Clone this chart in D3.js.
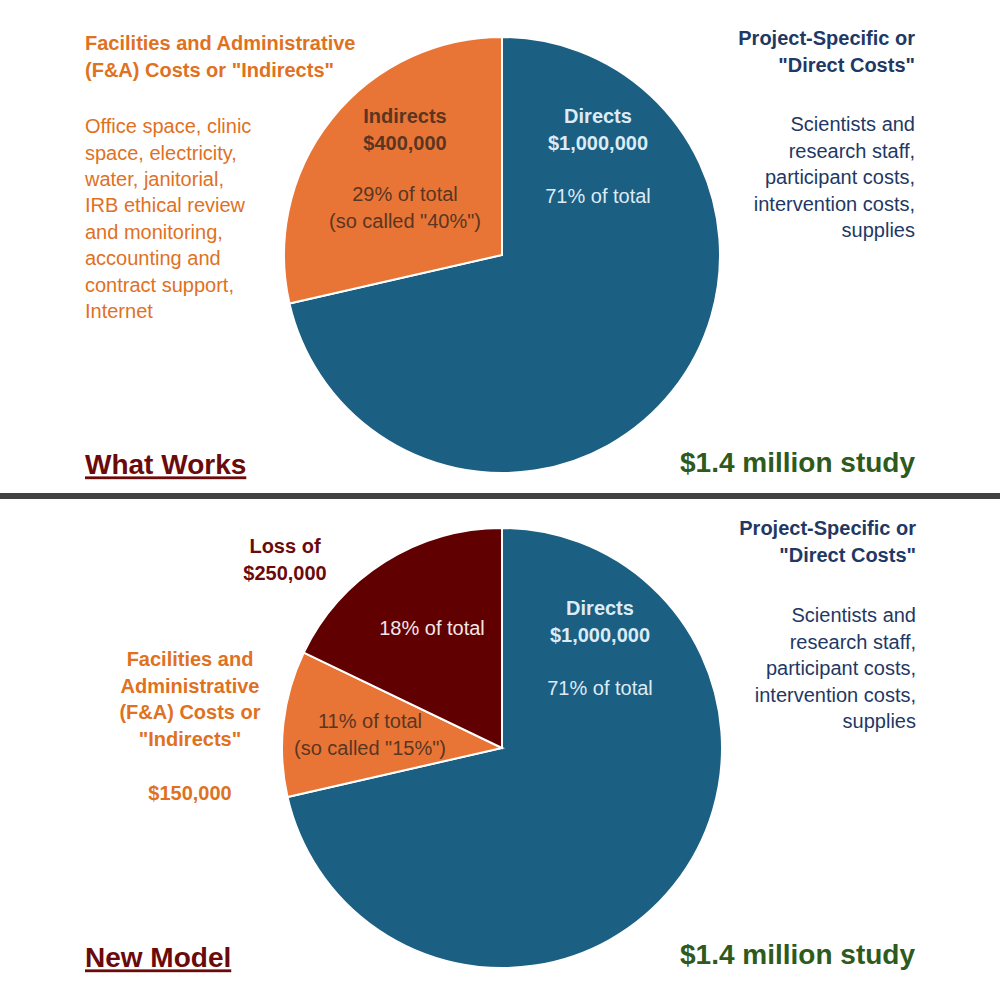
<!DOCTYPE html>
<html lang="en">
<head>
<meta charset="utf-8" />
<script src="https://cdnjs.cloudflare.com/ajax/libs/d3/7.8.5/d3.min.js"></script>
<style>
  body { margin: 0; background: #fff; }
  text { font-family: "Liberation Sans", Arial, sans-serif; dominant-baseline: middle; }
</style>
</head>
<body>
<div id="chart"></div>
<script>
// Data
const topNames = ['Directs', 'Indirects'];
const topValues = [1000000, 400000];
const bottomNames = ['Directs', 'Indirects', 'Loss'];
const bottomValues = [1000000, 150000, 250000];
const sliceColors = { Directs: '#1b5f82', Indirects: '#e87535', Loss: '#600000' };

const width = 1000, height = 1000;
const svg = d3.select('#chart').append('svg')
    .attr('width', width).attr('height', height);

const pie = d3.pie().sort(null);

function drawPie(names, values, cx, cy, r) {
    const g = svg.append('g').attr('transform', `translate(${cx}, ${cy})`);
    const arc = d3.arc().innerRadius(0).outerRadius(r);
    g.selectAll('path')
        .data(pie(values))
        .enter()
        .append('path')
        .attr('d', arc)
        .attr('fill', (d, i) => sliceColors[names[i]])
        .attr('stroke', '#fff')
        .attr('stroke-width', 2);
}

drawPie(topNames, topValues, 502, 255, 218);
drawPie(bottomNames, bottomValues, 502, 748, 220);

// separator
svg.append('rect').attr('x', 0).attr('y', 493).attr('width', width).attr('height', 6).attr('fill', '#404040');

// text helper
function lines(arr, x, y0, step, opts) {
    arr.forEach((t, i) => {
        svg.append('text')
            .attr('x', x).attr('y', y0 + i * step)
            .attr('text-anchor', opts.anchor || 'start')
            .attr('font-size', opts.size || 20)
            .attr('font-weight', opts.bold ? 'bold' : 'normal')
            .attr('fill', opts.color)
            .attr('text-decoration', opts.underline ? 'underline' : null)
            .text(t);
    });
}

const orange = '#e0711f', navy = '#1f3864', green = '#2e5a1c', maroon = '#6b0a0a';
const brown = '#5a3622', paleBlue = '#dcebf6';

// --- top panel ---
lines(['Facilities and Administrative', '(F&A) Costs or "Indirects"'], 85, 45, 27, { bold: true, color: orange });
lines(['Office space, clinic', 'space, electricity,', 'water, janitorial,', 'IRB ethical review',
       'and monitoring,', 'accounting and', 'contract support,', 'Internet'], 85, 128, 26.4, { color: orange });
lines(['Project-Specific or', '"Direct Costs"'], 915, 40, 27, { bold: true, color: navy, anchor: 'end' });
lines(['Scientists and', 'research staff,', 'participant costs,', 'intervention costs,', 'supplies'],
      915, 126, 26.5, { color: navy, anchor: 'end' });
lines(['Indirects', '$400,000'], 405, 118, 27, { bold: true, color: brown, anchor: 'middle' });
lines(['29% of total', '(so called "40%")'], 405, 196, 27, { color: brown, anchor: 'middle' });
lines(['Directs', '$1,000,000'], 598, 118, 27, { bold: true, color: paleBlue, anchor: 'middle' });
lines(['71% of total'], 598, 198, 27, { color: paleBlue, anchor: 'middle' });
lines(['What Works'], 85, 467, 0, { bold: true, size: 28, color: maroon, underline: true });
lines(['$1.4 million study'], 915, 465, 0, { bold: true, size: 28, color: green, anchor: 'end' });

// --- bottom panel ---
lines(['Project-Specific or', '"Direct Costs"'], 916, 530, 27, { bold: true, color: navy, anchor: 'end' });
lines(['Scientists and', 'research staff,', 'participant costs,', 'intervention costs,', 'supplies'],
      916, 617, 26.5, { color: navy, anchor: 'end' });
lines(['Loss of', '$250,000'], 285, 548, 27, { bold: true, color: maroon, anchor: 'middle' });
lines(['18% of total'], 432, 630, 0, { color: '#f3e6e6', anchor: 'middle' });
lines(['Facilities and', 'Administrative', '(F&A) Costs or', '"Indirects"'], 190, 661, 26.5, { bold: true, color: orange, anchor: 'middle' });
lines(['$150,000'], 190, 795, 0, { bold: true, color: orange, anchor: 'middle' });
lines(['11% of total', '(so called "15%")'], 370, 723, 27, { color: brown, anchor: 'middle' });
lines(['Directs', '$1,000,000'], 600, 610, 27, { bold: true, color: paleBlue, anchor: 'middle' });
lines(['71% of total'], 600, 690, 0, { color: paleBlue, anchor: 'middle' });
lines(['New Model'], 85, 960, 0, { bold: true, size: 28, color: maroon, underline: true });
lines(['$1.4 million study'], 915, 957, 0, { bold: true, size: 28, color: green, anchor: 'end' });
</script>
</body>
</html>
